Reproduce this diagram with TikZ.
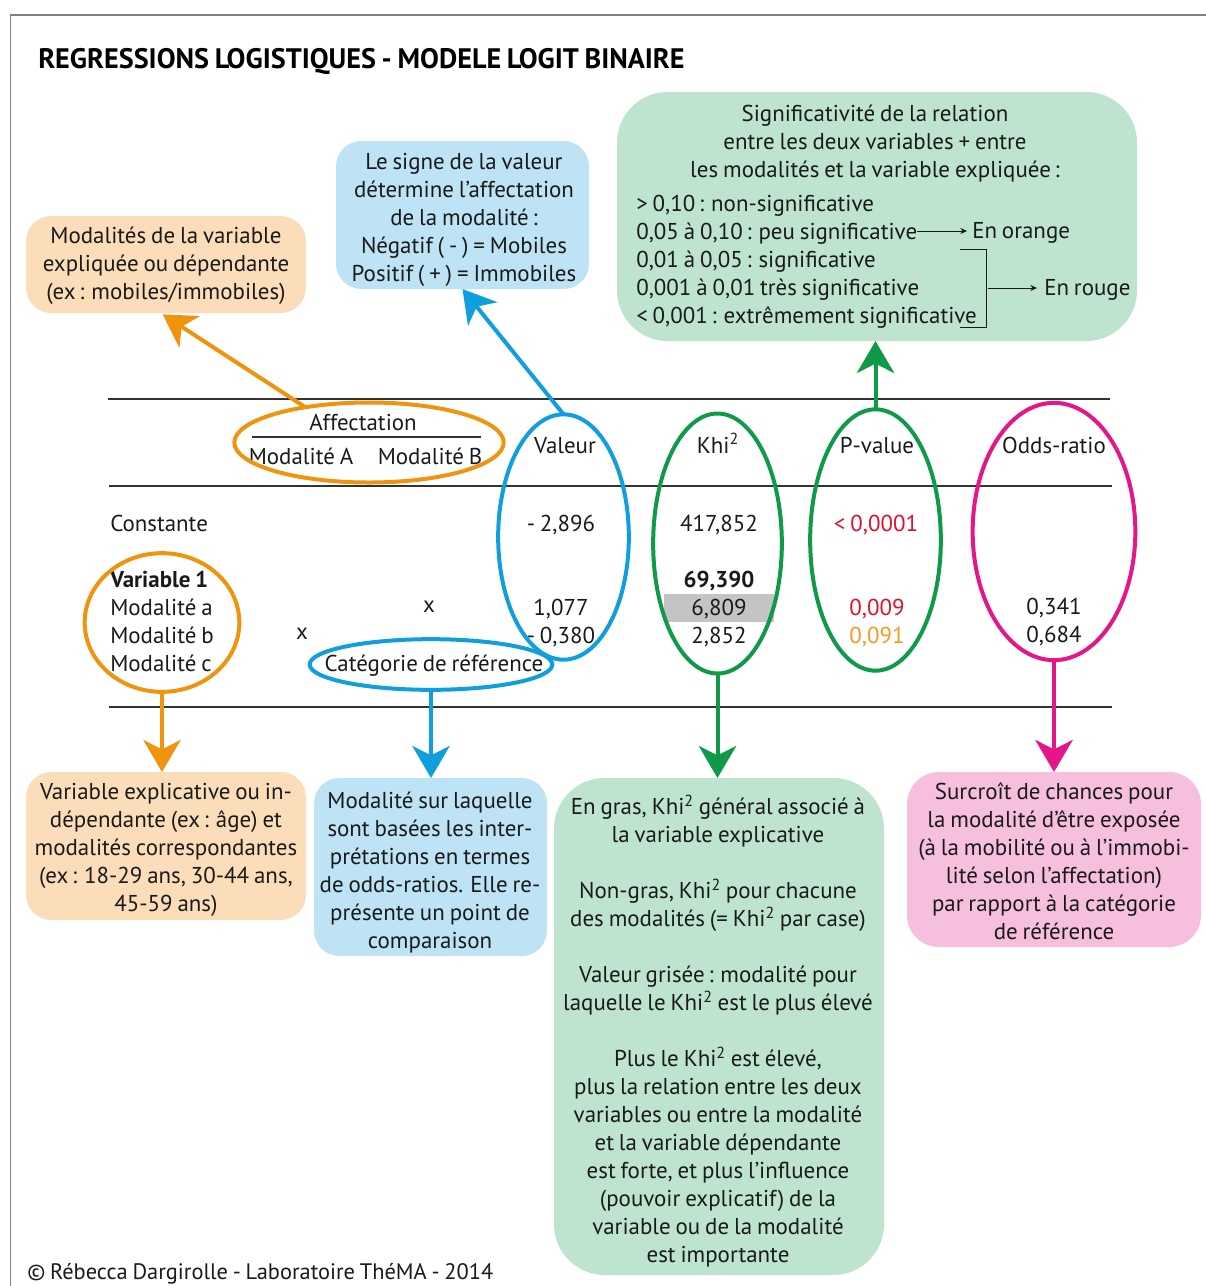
\documentclass[tikz,border=0pt]{standalone}
\usepackage{fontspec}
\setmainfont{PT Sans}[WordSpace=0.8]
\usetikzlibrary{arrows.meta,shapes.geometric}
\definecolor{cor}{HTML}{F0930F}
\definecolor{cbl}{HTML}{0F9FDF}
\definecolor{cgr}{HTML}{0E9A48}
\definecolor{cpk}{HTML}{E5158A}
\definecolor{for}{HTML}{FBDDB9}
\definecolor{fbl}{HTML}{BDE3F5}
\definecolor{fgr}{HTML}{BEE3CF}
\definecolor{fpk}{HTML}{F6BFDE}
\definecolor{tred}{HTML}{E30F2F}
\definecolor{tora}{HTML}{F7981D}
\definecolor{rulec}{HTML}{333333}
\definecolor{ink}{HTML}{1A1A1A}
\newcommand{\khi}{Khi\textsuperscript{2}}
\tikzset{
  box/.style={inner sep=0pt,outer sep=0pt,draw=none},
  txt/.style={font=\fontsize{17.2}{21}\selectfont,text=ink,inner sep=0pt,align=center},
  tl/.style={font=\fontsize{17.2}{21}\selectfont,text=ink,inner sep=0pt,anchor=base west},
  tc/.style={font=\fontsize{17.2}{21}\selectfont,text=ink,inner sep=0pt,anchor=base},
  oval/.style={ellipse,line width=3pt,inner sep=0pt,outer sep=0pt},
  conn/.style={line width=3pt,-{Stealth[length=24pt,width=28pt,inset=7pt]}},
  thin/.style={line width=0.6pt,draw=ink,-{Stealth[length=5pt,width=4.5pt]}},
  hrule/.style={line width=1.5pt,draw=rulec},
}
\begin{document}
\begin{tikzpicture}[x=0.75pt,y=-0.75pt]
\useasboundingbox (0,0) rectangle (1206,1286);
% frame
\coordinate (f1) at (10.5,1286); \coordinate (f2) at (10.5,15); \coordinate (f3) at (1206,15);
\draw[line width=0.8pt,draw=black!50] (f1) -- (f2) -- (f3);
\node[tl,font=\fontsize{21.15}{24}\selectfont\bfseries,text=black] (title) at (38,68.5) {REGRESSIONS LOGISTIQUES - MODELE LOGIT BINAIRE};
% boxes
\node[box,fill=for,rounded corners=19pt,minimum width=210pt,minimum height=72.75pt] (otop) at (166,264.5) {};
\node[box,fill=fbl,rounded corners=19pt,minimum width=189.75pt,minimum height=111pt] (btop) at (462.5,215) {};
\node[box,fill=fgr,rounded corners=38pt,minimum width=390pt,minimum height=186.75pt] (gtop) at (877,216.5) {};
\node[box,fill=for,rounded corners=19pt,minimum width=210pt,minimum height=111pt] (obot) at (166,846) {};
\node[box,fill=fbl,rounded corners=19pt,minimum width=174.75pt,minimum height=133.5pt] (bbot) at (430.5,867) {};
\node[box,fill=fgr,rounded corners=38pt,minimum width=247.5pt,minimum height=372.75pt] (gbot) at (719,1026.5) {};
\node[box,fill=fpk,rounded corners=24pt,minimum width=220.5pt,minimum height=131.25pt] (pbot) at (1054,859.5) {};
% box texts
\node[txt] (otopt) at (166,266) {Modalités de la variable\\expliquée ou dépendante\\(ex\,: mobiles/immobiles)};
\node[txt] (btopt) at (464,220) {Le signe de la valeur\\détermine l’affectation\\de la modalité\,:\\Négatif ( - ) = Mobiles\\Positif ( + ) = Immobiles};
\node[txt] (gtopt) at (875,144) {Significativité de la relation\\entre les deux variables + entre\\les modalités et la variable expliquée\,:};
\node[txt,align=left,anchor=west] (gtopl) at (636,262) {> 0,10\,: non-significative\\0,05 à 0,10\,: peu significative\\0,01 à 0,05\,: significative\\0,001 à 0,01 très significative\\< 0,001\,: extrêmement significative};
\node[tl] (eno) at (972,238) {En orange};
\node[tl] (enr) at (1044,295) {En rouge};
\node[txt] (obott) at (166,850) {Variable explicative ou in-\\dépendante (ex\,: âge) et\\modalités correspondantes\\(ex\,: 18-29 ans, 30-44 ans,\\45-59 ans)};
\node[txt] (bbott) at (430,873) {Modalité sur laquelle\\sont basées les inter-\\prétations en termes\\de odds-ratios. Elle re-\\présente un point de\\comparaison};
\node[txt] (gbott) at (718,1031) {En gras, \khi{} général associé à\\la variable explicative\\\mbox{}\\Non-gras, \khi{} pour chacune\\des modalités (= \khi{} par case)\\\mbox{}\\Valeur grisée\,: modalité pour\\laquelle le \khi{} est le plus élevé\\\mbox{}\\Plus le \khi{} est élevé,\\plus la relation entre les deux\\variables ou entre la modalité\\et la variable dépendante\\est forte, et plus l’influence\\(pouvoir explicatif) de la\\variable ou de la modalité\\est importante};
\node[txt] (pbott) at (1054,861) {Surcroît de chances pour\\la modalité d’être exposée\\(à la mobilité ou à l’immobi-\\lité selon l’affectation)\\par rapport à la catégorie\\de référence};
% thin arrows
\coordinate (a1) at (917,231); \coordinate (a2) at (967,231);
\draw[thin] (a1) -- (a2);
\coordinate (b1) at (960,249); \coordinate (b2) at (986,249); \coordinate (b3) at (986,327); \coordinate (b4) at (960,327);
\draw[line width=0.6pt,draw=ink] (b1) -- (b2) -- (b3) -- (b4);
\coordinate (c1) at (988,288); \coordinate (c2) at (1037,288);
\draw[thin] (c1) -- (c2);
% table rules
\coordinate (r1a) at (108,398.5); \coordinate (r1b) at (1110,398.5);
\coordinate (r2a) at (109,486); \coordinate (r2b) at (1112,486);
\coordinate (r3a) at (109,707); \coordinate (r3b) at (1112,707);
\coordinate (r4a) at (252,437); \coordinate (r4b) at (481,437);
\draw[hrule] (r1a) -- (r1b);
\draw[hrule] (r2a) -- (r2b);
\draw[hrule] (r3a) -- (r3b);
\draw[hrule] (r4a) -- (r4b);
% grey cell
\node[box,fill=black!23,minimum width=82.5pt,minimum height=21pt] (grey) at (719,608) {};
% table text
\node[tc] (affect) at (363,430) {Affectation};
\node[tc] (moda) at (301,464) {Modalité A};
\node[tc] (modb) at (430,464) {Modalité B};
\node[tc] (hval) at (565,453) {Valeur};
\node[tc] (hkhi) at (718,453) {\khi};
\node[tc] (hpv) at (877,453) {P-value};
\node[tc] (hor) at (1054,453) {Odds-ratio};
\node[tl] (const) at (110,531) {Constante};
\node[tl,font=\fontsize{17.2}{21}\selectfont\bfseries] (var1) at (110,587) {Variable 1};
\node[tl] (ma) at (110,615) {Modalité a};
\node[tl] (mb) at (110,643) {Modalité b};
\node[tl] (mc) at (110,671) {Modalité c};
\node[tc] (x1) at (429,612) {x};
\node[tc] (x2) at (302,639) {x};
\node[tc] (v0) at (561,531) {- 2,896};
\node[tc] (v1) at (561,615) {1,077};
\node[tc] (v2) at (561,643) {- 0,380};
\node[tc] (k0) at (719,531) {417,852};
\node[tc,font=\fontsize{17.2}{21}\selectfont\bfseries] (k1) at (719,587) {69,390};
\node[tc] (k2) at (719,615) {6,809};
\node[tc] (k3) at (719,643) {2,852};
\node[tc,text=tred] (p0) at (876,531) {< 0,0001};
\node[tc,text=tred] (p1) at (877,615) {0,009};
\node[tc,text=tora] (p2) at (877,643) {0,091};
\node[tc] (o1) at (1054,614) {0,341};
\node[tc] (o2) at (1054,642) {0,684};
\node[tc] (catt) at (434,671) {Catégorie de référence};
% ovals
\node[oval,draw=cor,minimum width=202pt,minimum height=60pt] (aff) at (369,442.5) {};
\node[oval,draw=cbl,minimum width=98pt,minimum height=184pt] (val) at (563.5,537) {};
\node[oval,draw=cor,minimum width=116pt,minimum height=104pt] (var) at (162,622.5) {};
\node[oval,draw=cbl,minimum width=182pt,minimum height=38pt] (cat) at (431,664.5) {};
\node[oval,draw=cgr,minimum width=96.5pt,minimum height=195pt] (khie) at (717.5,543.5) {};
\node[oval,draw=cgr,minimum width=98pt,minimum height=196pt] (pv) at (875.5,540) {};
\node[oval,draw=cpk,minimum width=122pt,minimum height=193pt] (odds) at (1054,531.5) {};
% connectors
\draw[conn,draw=cor,fill=cor] (aff.151) -- ([xshift=-2.5pt,yshift=-1pt]otop.south);
\draw[conn,draw=cbl,fill=cbl] (val.north) -- (btop.south);
\draw[conn,draw=cgr,fill=cgr] (pv.north) -- (pv.north |- gtop.south);
\draw[conn,draw=cor,fill=cor] (var.south) -- (var.south |- obot.north);
\draw[conn,draw=cbl,fill=cbl] (cat.south) -- (cat.south |- bbot.north);
\draw[conn,draw=cgr,fill=cgr] (khie.south) -- (khie.south |- gbot.north);
\draw[conn,draw=cpk,fill=cpk] (odds.south) -- (odds.south |- pbot.north);
% copyright
\node[tl,font=\fontsize{16.8}{20}\selectfont] (copy) at (27,1279) {© Rébecca Dargirolle - Laboratoire ThéMA - 2014};
\end{tikzpicture}
\end{document}
